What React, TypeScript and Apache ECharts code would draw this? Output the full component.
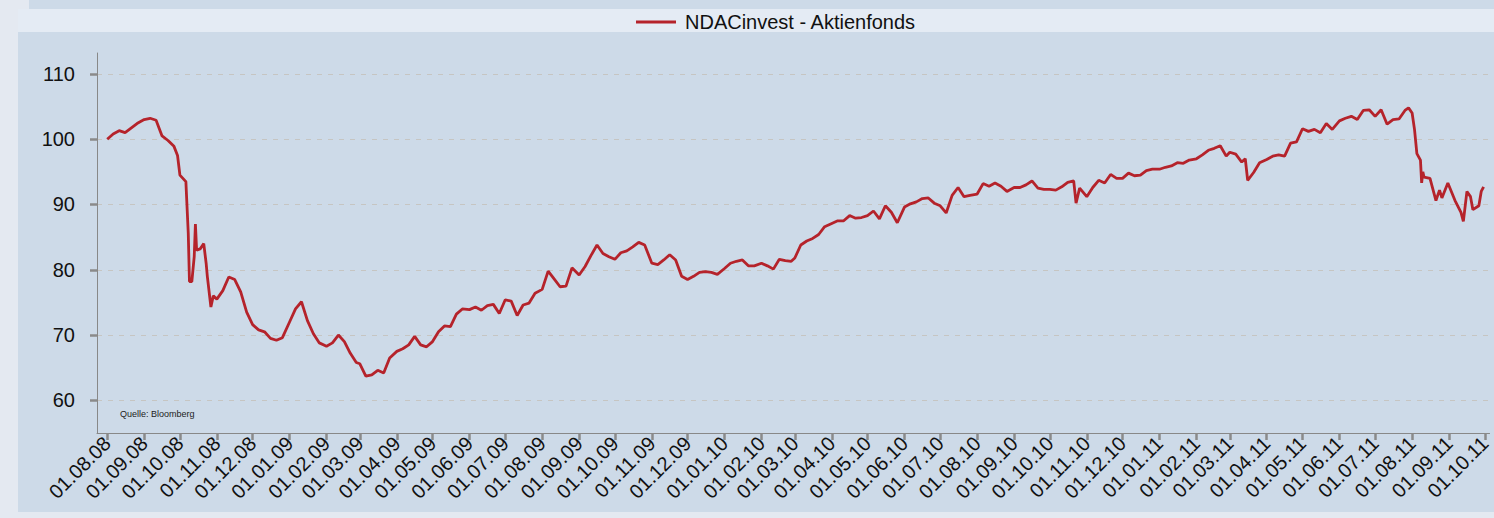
import React, { useEffect, useRef } from "react";
import * as echarts from "echarts";

const seriesName = "NDACinvest - Aktienfonds";
const sourceNote = "Quelle: Bloomberg";

const dates: string[] = [
  "2008-08-01","2008-08-06","2008-08-11","2008-08-16","2008-08-21","2008-08-26",
  "2008-09-01","2008-09-06","2008-09-11","2008-09-16","2008-09-21","2008-09-26","2008-09-29",
  "2008-10-01","2008-10-06","2008-10-08","2008-10-09","2008-10-11","2008-10-13","2008-10-14","2008-10-15","2008-10-18","2008-10-21","2008-10-23","2008-10-24","2008-10-27","2008-10-29",
  "2008-11-01","2008-11-06","2008-11-11","2008-11-16","2008-11-21","2008-11-26",
  "2008-12-01","2008-12-06","2008-12-11","2008-12-16","2008-12-21","2008-12-26",
  "2009-01-01","2009-01-06","2009-01-11","2009-01-16","2009-01-21","2009-01-26",
  "2009-02-01","2009-02-06","2009-02-11","2009-02-16","2009-02-21","2009-02-26",
  "2009-03-01","2009-03-06","2009-03-11","2009-03-16","2009-03-21","2009-03-26",
  "2009-04-01","2009-04-06","2009-04-11","2009-04-16","2009-04-21","2009-04-26",
  "2009-05-01","2009-05-06","2009-05-11","2009-05-16","2009-05-21","2009-05-26",
  "2009-06-01","2009-06-06","2009-06-11","2009-06-16","2009-06-21","2009-06-26",
  "2009-07-01","2009-07-06","2009-07-11","2009-07-16","2009-07-21","2009-07-26",
  "2009-08-01","2009-08-06","2009-08-11","2009-08-16","2009-08-21","2009-08-26",
  "2009-09-01","2009-09-06","2009-09-11","2009-09-16","2009-09-21","2009-09-26",
  "2009-10-01","2009-10-06","2009-10-11","2009-10-16","2009-10-21","2009-10-26",
  "2009-11-01","2009-11-06","2009-11-11","2009-11-16","2009-11-21","2009-11-26",
  "2009-12-01","2009-12-06","2009-12-11","2009-12-16","2009-12-21","2009-12-26",
  "2010-01-01","2010-01-06","2010-01-11","2010-01-16","2010-01-21","2010-01-26",
  "2010-02-01","2010-02-06","2010-02-11","2010-02-16","2010-02-21","2010-02-26",
  "2010-03-01","2010-03-06","2010-03-11","2010-03-16","2010-03-21","2010-03-26",
  "2010-04-01","2010-04-06","2010-04-11","2010-04-16","2010-04-21","2010-04-26",
  "2010-05-01","2010-05-06","2010-05-11","2010-05-16","2010-05-21","2010-05-26",
  "2010-06-01","2010-06-06","2010-06-11","2010-06-16","2010-06-21","2010-06-26",
  "2010-07-01","2010-07-06","2010-07-11","2010-07-16","2010-07-21","2010-07-26",
  "2010-08-01","2010-08-06","2010-08-11","2010-08-16","2010-08-21","2010-08-26",
  "2010-09-01","2010-09-06","2010-09-11","2010-09-16","2010-09-21","2010-09-26",
  "2010-10-01","2010-10-06","2010-10-11","2010-10-16","2010-10-21","2010-10-23","2010-10-26",
  "2010-11-01","2010-11-06","2010-11-11","2010-11-16","2010-11-21","2010-11-26",
  "2010-12-01","2010-12-06","2010-12-11","2010-12-16","2010-12-21","2010-12-26",
  "2011-01-01","2011-01-06","2011-01-11","2011-01-16","2011-01-21","2011-01-26",
  "2011-02-01","2011-02-06","2011-02-11","2011-02-16","2011-02-21","2011-02-26",
  "2011-03-01","2011-03-06","2011-03-11","2011-03-14","2011-03-16","2011-03-21","2011-03-26",
  "2011-04-01","2011-04-06","2011-04-11","2011-04-16","2011-04-21","2011-04-26",
  "2011-05-01","2011-05-06","2011-05-11","2011-05-16","2011-05-21","2011-05-26",
  "2011-06-01","2011-06-06","2011-06-11","2011-06-16","2011-06-21","2011-06-26",
  "2011-07-01","2011-07-06","2011-07-11","2011-07-16","2011-07-21","2011-07-26","2011-07-29",
  "2011-08-01","2011-08-03","2011-08-05","2011-08-08","2011-08-09","2011-08-10","2011-08-11","2011-08-16","2011-08-21","2011-08-24","2011-08-26","2011-08-31",
  "2011-09-06","2011-09-11","2011-09-13","2011-09-16","2011-09-19","2011-09-21","2011-09-26","2011-09-28","2011-09-30",
];

const values: number[] = [
  100.0, 100.8, 101.3, 101.0, 101.7, 102.4,
  103.0, 103.2, 102.9, 100.5, 99.8, 98.9, 97.5,
  94.5, 93.5, 85.6, 78.2, 78.2, 82.0, 87.0, 83.0, 83.2, 84.0, 81.0, 79.0, 74.3, 76.0,
  75.5, 76.8, 78.9, 78.5, 76.6, 73.5,
  71.6, 70.8, 70.5, 69.5, 69.2, 69.6,
  72.0, 74.0, 75.1, 72.2, 70.2, 68.8,
  68.3, 68.8, 70.0, 69.0, 67.2, 65.8,
  65.6, 63.7, 63.9, 64.6, 64.2, 66.5,
  67.5, 67.9, 68.5, 69.8, 68.5, 68.2,
  69.0, 70.5, 71.4, 71.3, 73.2, 74.0,
  73.9, 74.3, 73.8, 74.5, 74.7, 73.3,
  75.4, 75.2, 73.0, 74.6, 74.9, 76.4,
  77.0, 79.8, 78.6, 77.4, 77.5, 80.3,
  79.2, 80.5, 82.2, 83.8, 82.5, 82.0,
  81.6, 82.6, 82.9, 83.5, 84.2, 83.8,
  81.0, 80.8, 81.5, 82.3, 81.5, 79.0,
  78.5, 79.0, 79.6, 79.7, 79.6, 79.3,
  80.2, 81.0, 81.3, 81.5, 80.6, 80.6,
  81.0, 80.6, 80.1, 81.6, 81.4, 81.3,
  81.8, 83.8, 84.4, 84.8, 85.4, 86.6,
  87.1, 87.5, 87.5, 88.3, 87.9, 88.0,
  88.3, 89.0, 87.8, 89.8, 88.8, 87.2,
  89.6, 90.1, 90.4, 90.9, 91.0, 90.2,
  89.8, 88.7, 91.4, 92.6, 91.2, 91.4,
  91.6, 93.2, 92.8, 93.3, 92.8, 92.0,
  92.6, 92.6, 93.0, 93.6, 92.5, 92.3,
  92.3, 92.2, 92.7, 93.4, 93.6, 90.2, 92.5,
  91.2, 92.6, 93.7, 93.3, 94.6, 94.0,
  94.0, 94.8, 94.4, 94.5, 95.2, 95.4,
  95.4, 95.7, 95.9, 96.4, 96.3, 96.8,
  97.0, 97.6, 98.3, 98.6, 99.0, 97.4,
  98.0, 97.7, 96.5, 97.0, 93.7, 94.9, 96.4,
  96.9, 97.4, 97.6, 97.4, 99.4, 99.6,
  101.6, 101.2, 101.5, 101.0, 102.4, 101.5,
  102.8, 103.2, 103.5, 103.0, 104.4, 104.5,
  103.5, 104.5, 102.3, 103.0, 103.1, 104.4, 104.8,
  104.0, 101.5, 97.8, 96.8, 93.3, 95.0, 94.2, 94.0, 90.6, 92.2, 91.0, 93.3,
  90.6, 88.8, 87.4, 92.0, 91.2, 89.2, 89.8, 92.0, 92.7,
];

const xTickLabels: string[] = [
  "01.08.08","01.09.08","01.10.08","01.11.08","01.12.08",
  "01.01.09","01.02.09","01.03.09","01.04.09","01.05.09","01.06.09","01.07.09","01.08.09","01.09.09","01.10.09","01.11.09","01.12.09",
  "01.01.10","01.02.10","01.03.10","01.04.10","01.05.10","01.06.10","01.07.10","01.08.10","01.09.10","01.10.10","01.11.10","01.12.10",
  "01.01.11","01.02.11","01.03.11","01.04.11","01.05.11","01.06.11","01.07.11","01.08.11","01.09.11","01.10.11",
];

const yTickValues: number[] = [60, 70, 80, 90, 100, 110];

const xStart = "2008-07-23T10:00:00";
const xEnd = "2011-10-05T00:00:00";

const FONT = "'Liberation Sans', Arial, sans-serif";

function labelToTime(s: string): number {
  const [d, m, y] = s.split(".").map(Number);
  return new Date(2000 + y, m - 1, d).getTime();
}

function parseDate(s: string): number {
  const [datePart, timePart] = s.split("T");
  const [y, m, d] = datePart.split("-").map(Number);
  const [hh, mm] = (timePart || "00:00").split(":").map(Number);
  return new Date(y, m - 1, d, hh, mm).getTime();
}

function timeToLabel(t: number): string {
  const d = new Date(Math.round(t));
  const p = (n: number) => (n < 10 ? "0" + n : "" + n);
  return p(d.getDate()) + "." + p(d.getMonth() + 1) + "." + p(d.getFullYear() % 100);
}

export default function App() {
  const ref = useRef<HTMLDivElement>(null);
  useEffect(() => {
    if (!ref.current) return;
    const chart = echarts.init(ref.current, null, { renderer: "svg" });
    const xTicks = xTickLabels.map(labelToTime);
    const data = dates.map((d, i) => [parseDate(d), values[i]]);
    chart.setOption({
      animation: false,
      backgroundColor: "#e4e9f1",
      textStyle: { fontFamily: FONT },
      graphic: [
        { type: "rect", silent: true, z: -10, shape: { x: 18, y: 9, width: 1476, height: 23 }, style: { fill: "#e4ebf4" } },
        { type: "rect", silent: true, z: -10, shape: { x: 29, y: 0, width: 1465, height: 9 }, style: { fill: "#cddae8" } },
        { type: "rect", silent: true, z: -10, shape: { x: 18, y: 32, width: 1476, height: 480 }, style: { fill: "#cddae8" } },
        {
          type: "text",
          left: 120,
          top: 409,
          z: 10,
          style: { text: sourceNote, fontSize: 9, fontFamily: FONT, fill: "#222" },
        },
      ],
      legend: {
        left: 631,
        top: 7,
        itemWidth: 40,
        itemHeight: 3,
        itemGap: 10,
        textStyle: { fontSize: 20, color: "#111", fontFamily: FONT, padding: [0, 0, 0, 4] },
        data: [{ name: seriesName, icon: "rect", itemStyle: { color: "#b5232b" } }],
      },
      grid: { left: 97, right: 0, top: 53, bottom: 85, containLabel: false },
      xAxis: {
        type: "value",
        min: parseDate(xStart),
        max: parseDate(xEnd),
        axisLine: { show: true, onZero: false, lineStyle: { color: "#888", width: 1 } },
        axisTick: { show: true, length: 7, lineStyle: { color: "#8a8a8a", width: 2.5 }, customValues: xTicks },
        axisLabel: {
          customValues: xTicks,
          rotate: 45,
          margin: 7,
          fontSize: 20,
          color: "#111",
          fontFamily: FONT,
          formatter: (v: number) => timeToLabel(v),
          hideOverlap: false,
        },
        splitLine: { show: false },
      },
      yAxis: {
        type: "value",
        min: 55,
        max: 113.2,
        axisLine: { show: true, lineStyle: { color: "#888", width: 1 } },
        axisTick: { show: true, length: 7, lineStyle: { color: "#8a8a8a", width: 2.5 }, customValues: yTickValues },
        axisLabel: { customValues: yTickValues, margin: 22, fontSize: 20, color: "#111", fontFamily: FONT },
        splitLine: { show: true, lineStyle: { color: "#c6c5c2", type: [5, 6], width: 1 } },
      },
      series: [
        {
          name: seriesName,
          type: "line",
          data,
          showSymbol: false,
          symbol: "none",
          lineStyle: { color: "#b5232b", width: 2.8 },
          itemStyle: { color: "#b5232b" },
        },
      ],
    });
    return () => chart.dispose();
  }, []);
  return <div ref={ref} style={{ position: "absolute", left: 0, top: 0, width: 1494, height: 518 }} />;
}
